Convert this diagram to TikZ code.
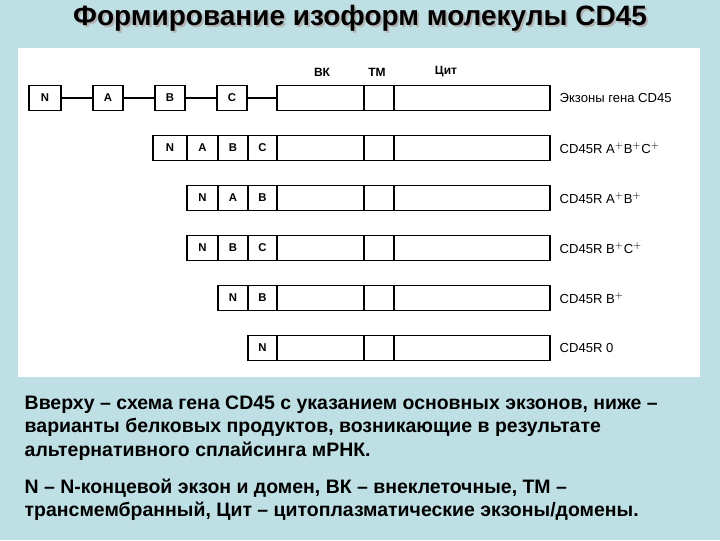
\documentclass[tikz,border=0pt]{standalone}
\usepackage{fontspec}
\setmainfont{Liberation Sans}
\begin{document}
\begin{tikzpicture}[x=0.75pt,y=-0.75pt,
  ex/.style={draw=black,line width=0.9pt,fill=white,minimum height=18.75pt,inner sep=0pt,font=\fontsize{8.5}{10}\selectfont\bfseries},
  lbl/.style={anchor=west,font=\fontsize{9.8}{11}\selectfont},
  body/.style={anchor=west,align=left,font=\fontsize{14.6}{17.6}\selectfont\bfseries}]
\fill[fill={rgb,255:red,190;green,224;blue,228}] (0,0) rectangle (720,540);
\useasboundingbox (0,0) rectangle (720,540);
\fill[white] (18,48) rectangle (700,377);
\node[font=\fontsize{21}{24}\selectfont\bfseries,text=gray!60] (sh) at (362,20) {Формирование изоформ молекулы CD45};
\node[font=\fontsize{21}{24}\selectfont\bfseries] (title) at (360,18) {Формирование изоформ молекулы CD45};
% headers
\node[font=\fontsize{9}{10}\selectfont\bfseries] (hbk) at (322,72) {ВК};
\node[font=\fontsize{9}{10}\selectfont\bfseries] (htm) at (377,72) {ТМ};
\node[font=\fontsize{9}{10}\selectfont\bfseries] (hcyt) at (446,72) {Цит};
\newcommand{\bx}[5]{\node[ex,minimum width={(#3-#2)*0.75pt}] (#1) at ({(#2+#3)/2},#4) {#5};}
% row 1
\bx{n1}{29}{61}{98}{N}
\bx{a1}{93}{123}{98}{A}
\bx{b1}{155}{185}{98}{B}
\bx{c1}{217}{247}{98}{C}
\bx{e1}{277}{364}{98}{}
\bx{t1}{364}{394}{98}{}
\bx{y1}{394}{550}{98}{}
\draw[line width=0.9pt] (n1)--(a1) (a1)--(b1) (b1)--(c1) (c1)--(e1);
\node[lbl] (l1) at (555,98) {Экзоны гена CD45};
% row 2
\bx{n2}{153}{187}{148}{N}\bx{a2}{187}{218}{148}{A}\bx{b2}{218}{248}{148}{B}\bx{c2}{248}{277}{148}{C}
\bx{e2}{277}{364}{148}{}\bx{t2}{364}{394}{148}{}\bx{y2}{394}{550}{148}{}
\node[lbl] (l2) at (555,148) {CD45R A$^{\mathbf{+}}$B$^{\mathbf{+}}$C$^{\mathbf{+}}$};
% row 3
\bx{n3}{187}{218}{198}{N}\bx{a3}{218}{248}{198}{A}\bx{b3}{248}{277}{198}{B}
\bx{e3}{277}{364}{198}{}\bx{t3}{364}{394}{198}{}\bx{y3}{394}{550}{198}{}
\node[lbl] (l3) at (555,198) {CD45R A$^{+}$B$^{+}$};
% row 4
\bx{n4}{187}{218}{248}{N}\bx{b4}{218}{248}{248}{B}\bx{c4}{248}{277}{248}{C}
\bx{e4}{277}{364}{248}{}\bx{t4}{364}{394}{248}{}\bx{y4}{394}{550}{248}{}
\node[lbl] (l4) at (555,248) {CD45R B$^{+}$C$^{+}$};
% row 5
\bx{n5}{218}{248}{298}{N}\bx{b5}{248}{277}{298}{B}
\bx{e5}{277}{364}{298}{}\bx{t5}{364}{394}{298}{}\bx{y5}{394}{550}{298}{}
\node[lbl] (l5) at (555,298) {CD45R B$^{+}$};
% row 6
\bx{n6}{248}{277}{348}{N}
\bx{e6}{277}{364}{348}{}\bx{t6}{364}{394}{348}{}\bx{y6}{394}{550}{348}{}
\node[lbl] (l6) at (555,348) {CD45R 0};
% text
\node[body] (p1) at (20,428) {Вверху – схема гена CD45 с указанием основных экзонов, ниже –\\варианты белковых продуктов, возникающие в результате\\альтернативного сплайсинга мРНК.};
\node[body] (p2) at (20,500) {N – N-концевой экзон и домен, ВК – внеклеточные, ТМ –\\трансмембранный, Цит – цитоплазматические экзоны/домены.};
\end{tikzpicture}
\end{document}
